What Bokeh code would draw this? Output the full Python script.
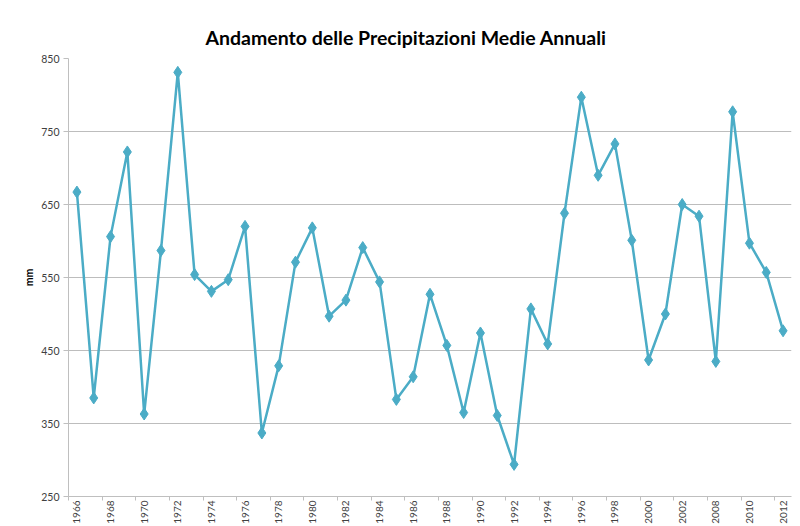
import math
from bokeh.plotting import figure
from bokeh.models import ColumnDataSource, Range1d, FixedTicker, Title
from bokeh.embed import file_html
from bokeh.resources import INLINE

years = ["1966", "1967", "1968", "1969", "1970", "1971", "1972", "1973", "1974", "1975",
         "1976", "1977", "1978", "1979", "1980", "1981", "1982", "1983", "1984", "1985",
         "1986", "1987", "1988", "1989", "1990", "1991", "1992", "1993", "1994", "1995",
         "1996", "1997", "1998", "1999", "2000", "2001", "2002", "2003", "2008", "2009",
         "2010", "2011", "2012"]
precip = [667, 385, 606, 722, 363, 587, 831, 554, 531, 547,
          620, 337, 429, 571, 618, 497, 519, 591, 544, 383,
          414, 527, 457, 365, 474, 361, 294, 507, 459, 638,
          797, 690, 733, 601, 437, 500, 650, 634, 435, 777,
          597, 557, 477]
y_ticks = [250, 350, 450, 550, 650, 750, 850]
title_text = "Andamento delle Precipitazioni Medie  Annuali"
y_label = "mm"

n = len(years)
idx = list(range(n))
src = ColumnDataSource(dict(x=idx, y=precip, year=years))

p = figure(width=800, height=526, output_backend="svg", toolbar_location=None,
           x_range=Range1d(-0.5, n - 0.5), y_range=Range1d(y_ticks[0], y_ticks[-1]),
           min_border_left=68, min_border_right=9, min_border_top=58, min_border_bottom=20)
p.title = Title(text=title_text, align="left", offset=137, standoff=20,
                text_font="Lato", text_font_size="19.5px", text_font_style="bold",
                text_color="#000000")
p.outline_line_color = None
p.background_fill_color = "white"
p.border_fill_color = "white"

# grids
p.xgrid.grid_line_color = None
p.ygrid.grid_line_color = "#BDBDBD"
p.ygrid.grid_line_width = 1

# y axis
p.yaxis.ticker = FixedTicker(ticks=y_ticks)
p.yaxis.axis_line_color = "#BFBFBF"
p.yaxis.major_tick_line_color = "#BFBFBF"
p.yaxis.major_tick_out = 5
p.yaxis.major_tick_in = 0
p.yaxis.minor_tick_line_color = None
p.yaxis.major_label_text_font = "Lato"
p.yaxis.major_label_text_font_size = "10.5px"
p.yaxis.major_label_text_color = "#404040"
p.yaxis.major_label_standoff = 4
p.yaxis.axis_label = y_label
p.yaxis.axis_label_text_font = "Lato"
p.yaxis.axis_label_text_font_size = "10.5px"
p.yaxis.axis_label_text_font_style = "bold"
p.yaxis.axis_label_text_color = "#000000"
p.yaxis.axis_label_standoff = 3

# x axis
p.xaxis.ticker = FixedTicker(ticks=list(range(0, n, 2)),
                             minor_ticks=[i - 0.5 for i in range(0, n + 1, 2)])
p.xaxis.major_label_overrides = {i: years[i] for i in range(0, n, 2)}
p.xaxis.axis_line_color = "#BFBFBF"
p.xaxis.major_tick_line_color = None
p.xaxis.major_tick_out = 0
p.xaxis.major_tick_in = 0
p.xaxis.minor_tick_line_color = "#BFBFBF"
p.xaxis.minor_tick_out = 4
p.xaxis.minor_tick_in = 0
p.xaxis.major_label_orientation = math.pi / 2
p.xaxis.major_label_text_font = "Lato"
p.xaxis.major_label_text_font_size = "10px"
p.xaxis.major_label_text_color = "#404040"
p.xaxis.major_label_standoff = 0

color = "#4BACC6"
p.line("x", "y", source=src, line_color=color, line_width=2.5)
p.scatter("x", "y", source=src, marker="diamond", size=12,
          fill_color=color, line_color=color)

open("out.html", "w").write(file_html(p, INLINE))
